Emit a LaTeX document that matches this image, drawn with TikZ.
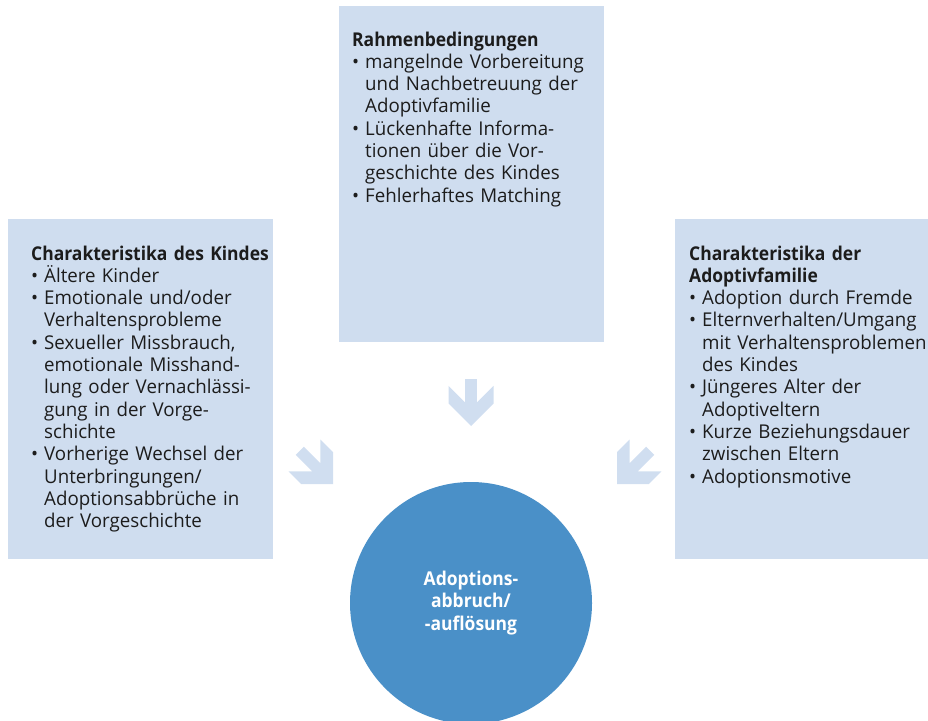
\documentclass[tikz,border=0pt]{standalone}
\usepackage{fontspec}
\setmainfont{Open Sans}[UprightFeatures={FakeStretch=0.985}, BoldFeatures={FakeStretch=0.92}]
\usetikzlibrary{positioning}

\definecolor{kastenblau}{RGB}{207,221,239}
\definecolor{pfeilblau}{RGB}{208,222,240}
\definecolor{kreisblau}{RGB}{74,144,200}
\definecolor{schrift}{RGB}{28,28,28}

% one bullet point with hanging indent
\newcommand{\punkt}[1]{\par\hangindent=13pt\hangafter=1\noindent\makebox[13pt][l]{•}#1\par}

\tikzset{
  kasten/.style={fill=kastenblau, inner sep=0pt, anchor=north west},
  liste/.style={anchor=base west, inner sep=0pt, text width=290pt, text=schrift,
    font=\fontsize{19}{22.3}\selectfont},
  kreis/.style={circle, fill=kreisblau, inner sep=0pt, minimum size=242pt, text=white,
    align=center, font=\bfseries\fontsize{19}{22.3}\selectfont},
  pfeil/.pic={
    \fill[pfeilblau] (0,0) -- (-22.5,-22.5) -- (-22.5,-40.2) -- (-5.8,-23.5) -- (-5.8,-47)
      -- (5.8,-47) -- (5.8,-23.5) -- (22.5,-40.2) -- (22.5,-22.5) -- cycle;
  }
}

\begin{document}
\begin{tikzpicture}[x=1pt, y=-1pt]

    \useasboundingbox (0,0) rectangle (928,720);

    % boxes
    \node[kasten, minimum width=265pt, minimum height=336pt] (rahmen) at (339,6) {};
    \node[kasten, minimum width=265pt, minimum height=340pt] (kind) at (8,219) {};
    \node[kasten, minimum width=253pt, minimum height=340pt] (familie) at (675,219) {};

    % texts
    \node[liste] (rahmenText) at ([xshift=13pt, yshift=-40pt]rahmen.north west) {\raggedright
      {\bfseries Rahmenbedingungen}
      \punkt{mangelnde Vorbereitung\newline und Nachbetreuung der\newline Adoptivfamilie}
      \punkt{Lückenhafte Informa-\newline tionen über die Vor-\newline geschichte des Kindes}
      \punkt{Fehlerhaftes Matching}};

    \node[liste] (kindText) at ([xshift=23pt, yshift=-41pt]kind.north west) {\raggedright
      {\bfseries Charakteristika des Kindes}
      \punkt{Ältere Kinder}
      \punkt{Emotionale und/oder\newline Verhaltensprobleme}
      \punkt{Sexueller Missbrauch,\newline emotionale Misshand-\newline lung oder Vernachlässi-\newline gung in der Vorge-\newline schichte}
      \punkt{Vorherige Wechsel der\newline Unterbringungen/\newline Adoptionsabbrüche in\newline der Vorgeschichte}};

    \node[liste] (familieText) at ([xshift=14pt, yshift=-41pt]familie.north west) {\raggedright
      {\bfseries Charakteristika der\newline Adoptivfamilie}
      \punkt{Adoption durch Fremde}
      \punkt{Elternverhalten/Umgang\newline mit Verhaltensproblemen\newline des Kindes}
      \punkt{Jüngeres Alter der\newline Adoptiveltern}
      \punkt{Kurze Beziehungsdauer\newline zwischen Eltern}
      \punkt{Adoptionsmotive}};

    % centre
    \node[kreis] (abbruch) at (471,603) {Adoptions-\\abbruch/\\-auflösung};

    % arrows
    \coordinate (spitzeO) at (471,426);
    \coordinate (spitzeL) at (333,484);
    \coordinate (spitzeR) at (617,484);
    \pic at (spitzeO) {pfeil};
    \pic[rotate=45] at (spitzeL) {pfeil};
    \pic[rotate=-45] at (spitzeR) {pfeil};

\end{tikzpicture}
\end{document}
